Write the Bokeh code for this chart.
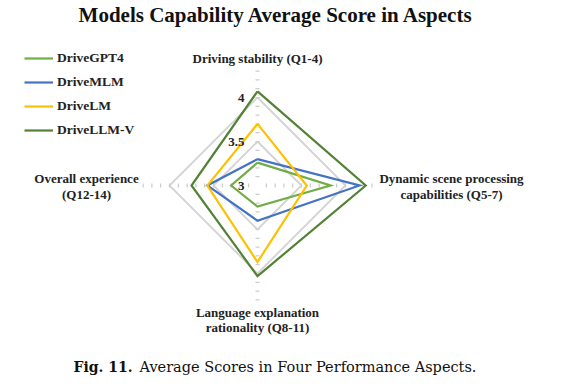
import numpy as np
from bokeh.plotting import figure
from bokeh.models import Range1d, Legend, LegendItem
from bokeh.embed import file_html
from bokeh.resources import INLINE
from bokeh.core.properties import value

# ---------------- data ----------------
aspects = ["Driving stability (Q1-4)",
           "Dynamic scene processing capabilities (Q5-7)",
           "Language explanation rationality (Q8-11)",
           "Overall experience (Q12-14)"]
models = ["DriveGPT4", "DriveMLM", "DriveLM", "DriveLLM-V"]
drivegpt4 = [3.26, 3.83, 3.24, 3.30]
drivemlm = [3.30, 4.16, 3.40, 3.57]
drivelm = [3.70, 3.56, 3.87, 3.57]
drivellmv = [4.07, 4.23, 4.03, 3.75]
ring_values = [3.5, 4.0]
ring_label_values = [3.0, 3.5, 4.0]
ring_label_texts = ["3", "3.5", "4"]
axis_min = 3.0
axis_max = 4.3
minor_step = 0.1

series = [drivegpt4, drivemlm, drivelm, drivellmv]
colors = ["#70AD47", "#4472C4", "#FFC000", "#548235"]

# ---------------- geometry ----------------
W, H = 562, 380
PX = 88.0          # pixels per score unit
CX, CY = 257, 185  # centre of radar in figure pixels (from top-left)
angles = [np.pi / 2 - i * np.pi / 2 for i in range(len(aspects))]  # clockwise from top


def to_xy(vals):
    r = np.array(vals) - axis_min
    xs = [ri * np.cos(a) for ri, a in zip(r, angles)]
    ys = [ri * np.sin(a) for ri, a in zip(r, angles)]
    return xs + xs[:1], ys + ys[:1]


def scr(sx, sy):
    """figure pixel -> data coords"""
    return (sx - CX) / PX, (CY - sy) / PX


p = figure(width=W, height=H, output_backend="svg", toolbar_location=None,
           x_range=Range1d(-CX / PX, (W - CX) / PX),
           y_range=Range1d(-(H - CY) / PX, CY / PX),
           min_border=0)
p.axis.visible = False
p.grid.visible = False
p.outline_line_color = None
p.background_fill_color = "white"

# minor tick marks along each spoke
tick_vals = np.arange(axis_min + minor_step, axis_max + 1e-9, minor_step)
tx, ty, tang = [], [], []
for a in angles:
    for v in tick_vals:
        r = v - axis_min
        tx.append(r * np.cos(a))
        ty.append(r * np.sin(a))
        tang.append(a + np.pi / 2)
p.scatter(tx, ty, marker="dash", size=4, angle=tang, line_color="#BFBFBF",
          line_width=1)

# grid rings
for rv in ring_values:
    xs, ys = to_xy([rv] * len(aspects))
    p.line(xs, ys, line_color="#D3D3D3", line_width=1.8, line_join="miter")

# series
renderers = []
for vals, col in zip(series, colors):
    xs, ys = to_xy(vals)
    renderers.append(p.line(xs, ys, line_color=col, line_width=2.2,
                            line_join="miter"))

# ring labels
serif = value("Liberation Serif")
for v, t in zip(ring_label_values, ring_label_texts):
    p.text([-13 / PX], [v - axis_min], text=[t], text_font=serif,
           text_font_style="bold", text_font_size="13px", text_align="right",
           text_baseline="middle", text_color="#222222")

# category labels (split into lines as in the reference)
label_lines = [
    (["Driving stability (Q1-4)"], 257, [58]),
    (["Dynamic scene processing", "capabilities (Q5-7)"], 451, [178, 194]),
    (["Language explanation", "rationality (Q8-11)"], 257, [312, 327]),
    (["Overall experience", "(Q12-14)"], 86, [178, 194]),
]
for lines, sx, sys_ in label_lines:
    for ln, sy in zip(lines, sys_):
        x, y = scr(sx, sy)
        p.text([x], [y], text=[ln], text_font=serif, text_font_style="bold",
               text_font_size="13px", text_align="center",
               text_baseline="middle", text_color="#222222")

# title
x, y = scr(281, 14)
p.text([x], [y], text=["Models Capability Average Score  in  Aspects"],
       text_font=serif, text_font_style="bold", text_font_size="21px",
       text_align="center", text_baseline="middle", text_color="#111111")

# caption
x, y = scr(73, 366)
p.text([x], [y], text=["Fig. 11."], text_font=value("DejaVu Serif"),
       text_font_style="bold", text_font_size="14px", text_align="left",
       text_baseline="middle", text_color="#111111")
x, y = scr(139, 366)
p.text([x], [y], text=["Average Scores in Four Performance Aspects."],
       text_font=value("DejaVu Serif"), text_font_size="14.5px",
       text_align="left", text_baseline="middle", text_color="#111111")

# legend
legend = Legend(items=[LegendItem(label=m, renderers=[r])
                       for m, r in zip(models, renderers)],
                location=(24, H - 48 - 92), orientation="vertical",
                glyph_width=29, glyph_height=20, label_height=20,
                spacing=4, padding=0, margin=0, label_standoff=4,
                label_text_font="Liberation Serif", label_text_font_style="bold",
                label_text_font_size="13.5px", label_text_color="#222222",
                border_line_alpha=0, background_fill_alpha=0)
p.add_layout(legend)

open("out.html", "w").write(file_html(p, INLINE))
